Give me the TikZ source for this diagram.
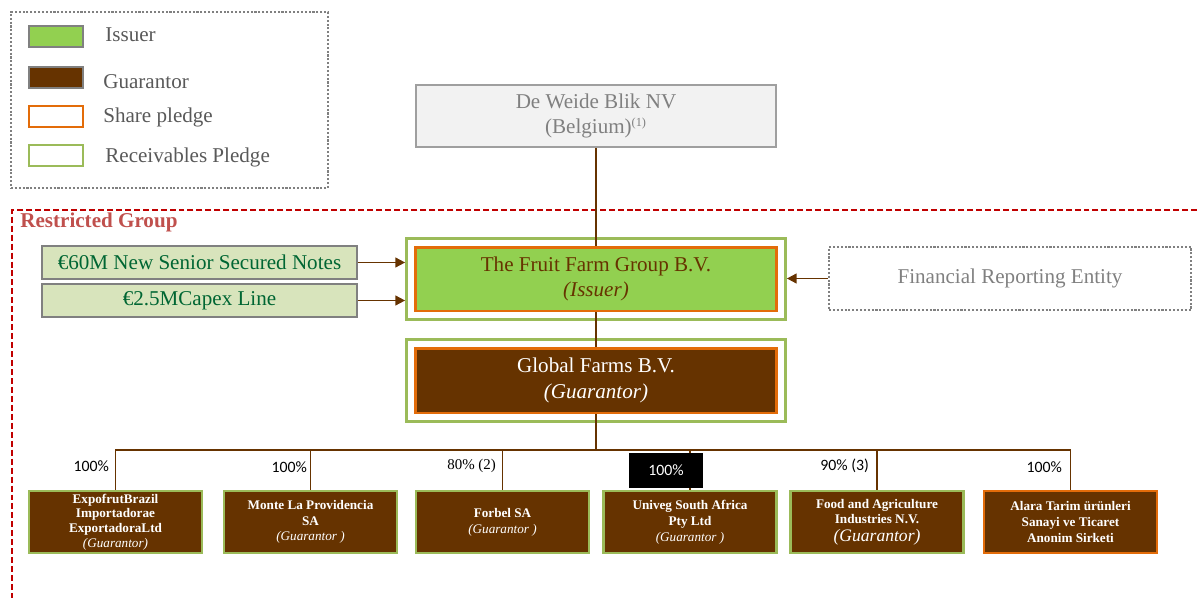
\documentclass[tikz,border=0pt]{standalone}
\usepackage{fontspec}
\setmainfont{Liberation Serif}
\newfontfamily\pctfont{Carlito}
\usetikzlibrary{arrows.meta, positioning, fit}
\definecolor{issuergreen}{RGB}{146,208,80}
\definecolor{guarbrown}{RGB}{102,51,0}
\definecolor{pledgeorange}{RGB}{227,108,9}
\definecolor{recvgreen}{RGB}{155,187,89}
\definecolor{notegreen}{RGB}{216,228,188}
\definecolor{notetext}{RGB}{0,102,51}
\definecolor{restrictred}{RGB}{192,0,0}
\definecolor{restricttext}{RGB}{192,80,77}
\definecolor{greytext}{RGB}{128,128,128}
\definecolor{legendtext}{RGB}{89,89,89}
\definecolor{parentfill}{RGB}{242,242,242}
\tikzset{
  parent/.style   = {draw=gray!75, line width=1.1pt, fill=parentfill, text=greytext,
                     align=center, font=\fontsize{12}{14.5}\selectfont,
                     minimum width=7.2cm, minimum height=1.24cm},
  topco/.style    = {draw=pledgeorange, line width=1.7pt, align=center,
                     font=\fontsize{12}{14.5}\selectfont,
                     minimum width=7.24cm, minimum height=1.28cm},
  pledgeframe/.style = {draw=recvgreen, line width=1.6pt, inner sep=0.14cm},
  note/.style     = {draw=gray, line width=1pt, fill=notegreen, text=notetext,
                     font=\fontsize{12}{14}\selectfont,
                     minimum width=6.3cm, minimum height=0.66cm},
  reporting/.style = {draw=gray, densely dotted, line width=1.2pt, text=greytext,
                     font=\fontsize{12}{14}\selectfont,
                     minimum width=7.24cm, minimum height=1.26cm},
  subsid/.style   = {draw=recvgreen, line width=1.6pt, fill=guarbrown, text=white,
                     align=center, font=\fontsize{7.5}{9}\selectfont\bfseries,
                     inner ysep=1pt, minimum width=3.46cm, minimum height=1.24cm},
  pct/.style      = {anchor=east, font=\pctfont\fontsize{9}{10}\selectfont, inner sep=1pt},
  link/.style     = {draw=guarbrown, line width=1pt},
  arrow/.style    = {link, -{Triangle[length=5.5pt, width=5.5pt]}},
  swatch/.style   = {draw=gray, line width=1.2pt, minimum width=1.08cm, minimum height=0.42cm},
  legtext/.style  = {anchor=west, text=legendtext, font=\fontsize{12}{14}\selectfont, inner sep=0pt},
  restrict/.style = {draw=restrictred, line width=1.1pt, dash pattern=on 3.4pt off 1.7pt},
}

\begin{document}
\begin{tikzpicture}[x=0.02cm, y=-0.02cm]
  \useasboundingbox (0,0) rectangle (1197,598);

  % legend
  \node[draw=gray, densely dotted, line width=1.2pt, minimum width=6.34cm,
        minimum height=3.52cm] (legend) at (169.5,100) {};
  \node[swatch, fill=issuergreen] (swiss) at (56,36.5) {};
  \node[swatch, fill=guarbrown] (swguar) at (56,77.5) {};
  \node[swatch, draw=pledgeorange, line width=1.7pt] (swshare) at (56,116.5) {};
  \node[swatch, draw=recvgreen, line width=1.7pt] (swrecv) at (56,155.5) {};
  \node[legtext] (ltiss) at (105,35) {Issuer};
  \node[legtext] (ltguar) at (103,82) {Guarantor};
  \node[legtext] (ltshare) at (103,117) {Share pledge};
  \node[legtext] (ltrecv) at (105,157) {Receivables Pledge};

  % restricted group
  \draw[restrict] (1197,210) -- (12,210) -- (12,598);
  \node[anchor=west, text=restricttext, font=\fontsize{12}{14}\selectfont\bfseries,
        inner sep=0pt] (rg) at (20,222) {Restricted Group};

  % holding chain
  \node[parent] (dwb) at (596,116) {De Weide Blik NV\\(Belgium)\textsuperscript{\fontsize{7}{8}\selectfont(1)}};
  \node[topco, fill=issuergreen, text=guarbrown] (ffg) at (596,279)
       {The Fruit Farm Group B.V.\\\textit{(Issuer)}};
  \node[pledgeframe, fit=(ffg)] (ffgfr) {};
  \node[topco, fill=guarbrown, text=white, minimum height=1.3cm] (gf) at (596,380.5)
       {Global Farms B.V.\\\textit{(Guarantor)}};
  \node[pledgeframe, fit=(gf)] (gffr) {};

  \node[note] (notes) at (199.5,262.5) {€60M New Senior Secured Notes};
  \node[note] (capex) at (199.5,300.5) {€2.5MCapex Line};
  \node[reporting] (fre) at (1010,278.5) {Financial Reporting Entity};

  % subsidiaries
  \node[subsid, font=\fontsize{7.5}{8.4}\selectfont\bfseries] (expo) at (115.5,522)
       {ExpofrutBrazil\\Importadorae\\ExportadoraLtd\\\textit{\mdseries (Guarantor)}};
  \node[subsid] (monte) at (310.5,522)
       {Monte La Providencia\\SA\\\textit{\mdseries (Guarantor )}};
  \node[subsid] (forbel) at (502.5,522)
       {Forbel SA\\\textit{\mdseries (Guarantor )}};
  \node[subsid] (univeg) at (690,522)
       {Univeg South Africa\\Pty Ltd\\\textit{\mdseries (Guarantor )}};
  \node[subsid] (food) at (877,522)
       {Food and Agriculture\\Industries N.V.\\[1pt]{\fontsize{10}{11}\selectfont\textit{\mdseries (Guarantor)}}};
  \node[subsid, draw=pledgeorange] (alara) at (1070.5,522)
       {Alara Tarim ürünleri\\Sanayi ve Ticaret\\Anonim Sirketi};

  % connectors
  \coordinate (bar) at (596,450);
  \draw[link] (dwb) -- (ffg);
  \draw[link] (ffg) -- (gf);
  \draw[link] (gf.south) -- (bar);
  \draw[link] (expo.north) |- (bar) -| (alara.north);
  \draw[link] (monte.north) -- (monte.north |- bar);
  \draw[link] (forbel.north) -- (forbel.north |- bar);
  \draw[link] (univeg.north) -- (univeg.north |- bar);
  \draw[link] (food.north) -- (food.north |- bar);
  \draw[arrow] (notes.east) -- (notes.east -| ffgfr.west);
  \draw[arrow] (capex.east) -- (capex.east -| ffgfr.west);
  \draw[arrow] (fre.west) -- (fre.west -| ffgfr.east);

  % holdings
  \node[pct] (pexpo) at (111,466) {100\%};
  \node[pct] (pmonte) at (309,467) {100\%};
  \node[pct, font=\fontsize{8.5}{9}\selectfont] (pforbel) at (498,466) {80\% (2)};
  \node[pct, anchor=center, fill=black, text=white, minimum width=1.48cm,
        minimum height=0.7cm] (punivg) at (666,470.5) {100\%};
  \node[pct] (pfood) at (871,466) {90\% (3)};
  \node[pct] (palara) at (1064,467) {100\%};
\end{tikzpicture}
\end{document}
